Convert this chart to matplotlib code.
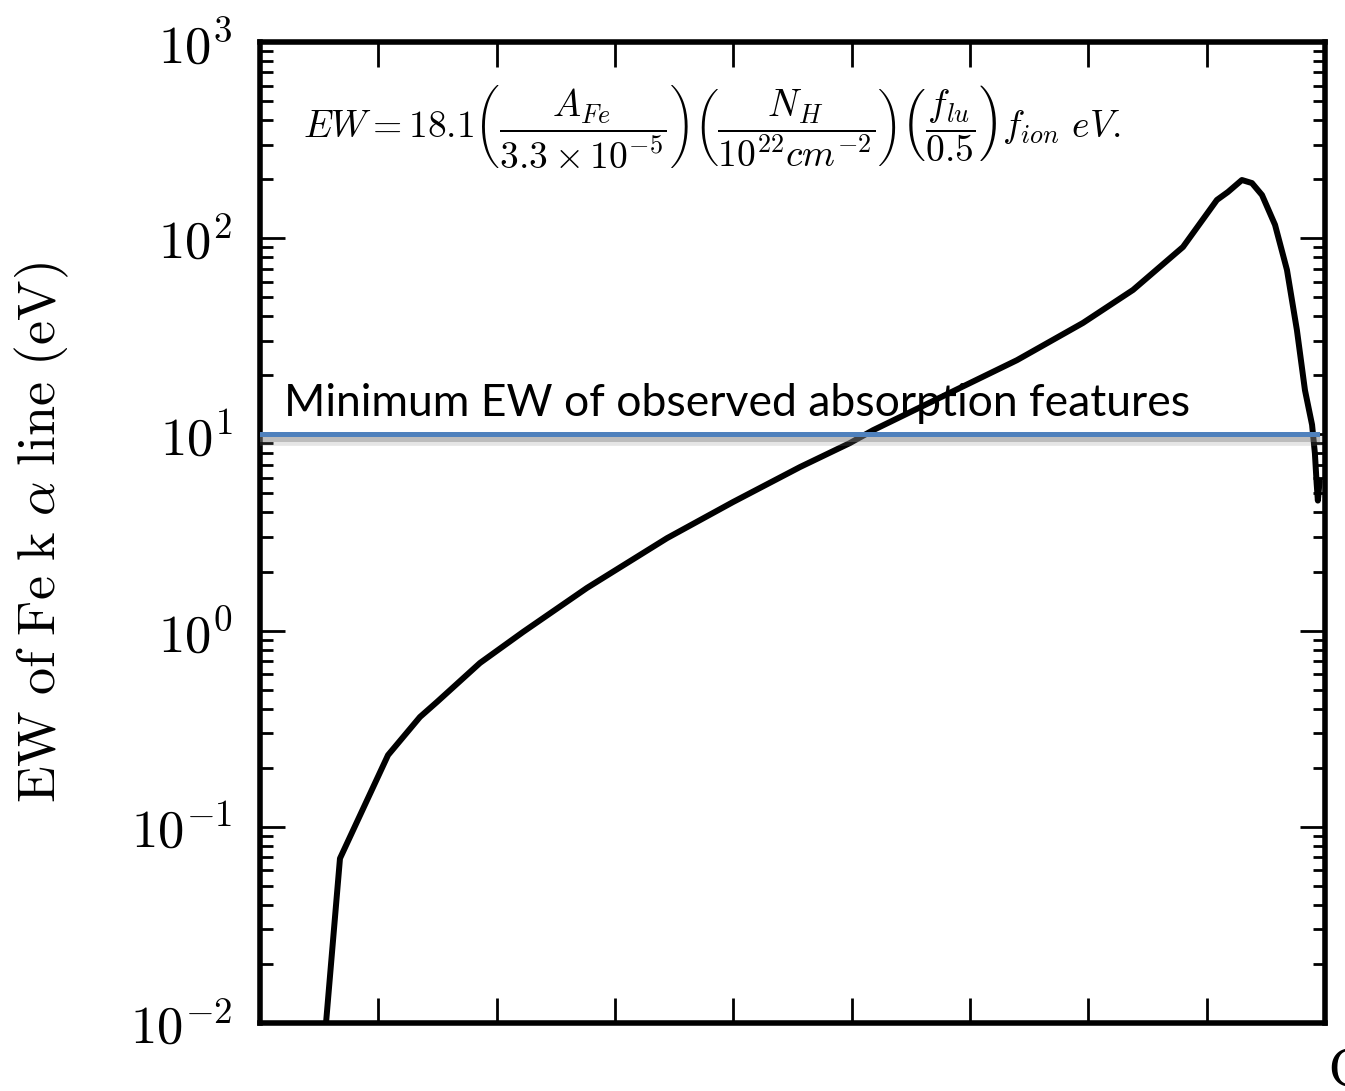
import matplotlib
matplotlib.use("Agg")
import matplotlib.pyplot as plt
import matplotlib.patheffects as pe
from matplotlib.ticker import LogLocator, NullFormatter, NullLocator

plt.rcParams['mathtext.fontset'] = 'cm'
plt.rcParams['font.family'] = 'serif'
plt.rcParams['font.serif'] = ['cmr10', 'DejaVu Serif']
plt.rcParams['axes.formatter.use_mathtext'] = True

# Fe K alpha equivalent width curve (x in plot units, EW in eV)
x_vals = [0.558, 0.676, 1.082, 1.352, 1.496, 1.859, 2.223, 2.763, 3.44, 3.997,
          4.564, 4.986, 5.18, 5.831, 6.397, 6.955, 7.378, 7.80, 8.087, 8.18,
          8.298, 8.383, 8.468, 8.578, 8.679, 8.763, 8.831, 8.891, 8.915, 8.93,
          8.94, 8.955]
ew_vals = [0.01, 0.069, 0.232, 0.363, 0.433, 0.684, 0.984, 1.65, 2.96, 4.52,
           6.82, 9.04, 10.5, 16.3, 23.9, 37.0, 54.5, 90.2, 156.7, 172.0,
           198.0, 191.0, 166.0, 117.0, 68.9, 34.0, 16.8, 11.2, 8.0, 5.6,
           4.6, 5.8]

ew_min = 10.0
x_min_line = [0.0, 8.93]

fig = plt.figure(figsize=(13.45, 10.91), dpi=100)
ax = fig.add_axes([0.1933, 0.0623, 0.7918, 0.8992])

ax.plot(x_vals, ew_vals, color='black', lw=4.3, solid_joinstyle='round',
        solid_capstyle='round', zorder=3)

ax.plot(x_min_line, [ew_min, ew_min], color='#4f81bd', lw=3.6, zorder=4,
        path_effects=[pe.SimpleLineShadow(offset=(0, -4.5), shadow_color='gray', alpha=0.2, linewidth=7),
                      pe.SimpleLineShadow(offset=(0, -3), shadow_color='gray', alpha=0.4),
                      pe.Normal()])
ax.text(0.2, 11.3, 'Minimum EW of observed absorption features', family='Lato',
        fontsize=32, color='black', va='bottom', ha='left', zorder=5)

ax.text(0.36, 370,
        r'$EW = 18.1\left(\dfrac{A_{Fe}}{3.3\times10^{-5}}\right)\left(\dfrac{N_H}{10^{22}cm^{-2}}\right)\left(\dfrac{f_{lu}}{0.5}\right)f_{ion}\ eV.$',
        fontsize=27, va='center', ha='left')

ax.set_yscale('log')
ax.set_xlim(0, 9)
ax.set_ylim(1e-2, 1e3)
ax.set_xticks(range(1, 9))
ax.xaxis.set_major_formatter(NullFormatter())
ax.xaxis.set_minor_locator(NullLocator())
ax.yaxis.set_major_locator(LogLocator(base=10, numticks=10))
ax.yaxis.set_minor_locator(LogLocator(base=10, subs=range(2, 10), numticks=20))
ax.yaxis.set_minor_formatter(NullFormatter())

ax.tick_params(which='both', direction='in', top=True, right=True)
ax.tick_params(which='major', length=18, width=2, labelsize=38, pad=20)
ax.tick_params(which='minor', length=9, width=2)
for sp in ax.spines.values():
    sp.set_linewidth(4)

ax.set_ylabel(r'$\mathrm{EW\ of\ Fe\ k}\ \alpha\ \mathrm{line\ (eV)}$', fontsize=39, labelpad=42)

fig.text(1328 / 1345, 1 - 1048 / 1091, 'C', fontsize=36, family='DejaVu Serif',
         va='top', ha='left')

fig.savefig('out.png', dpi=100)
